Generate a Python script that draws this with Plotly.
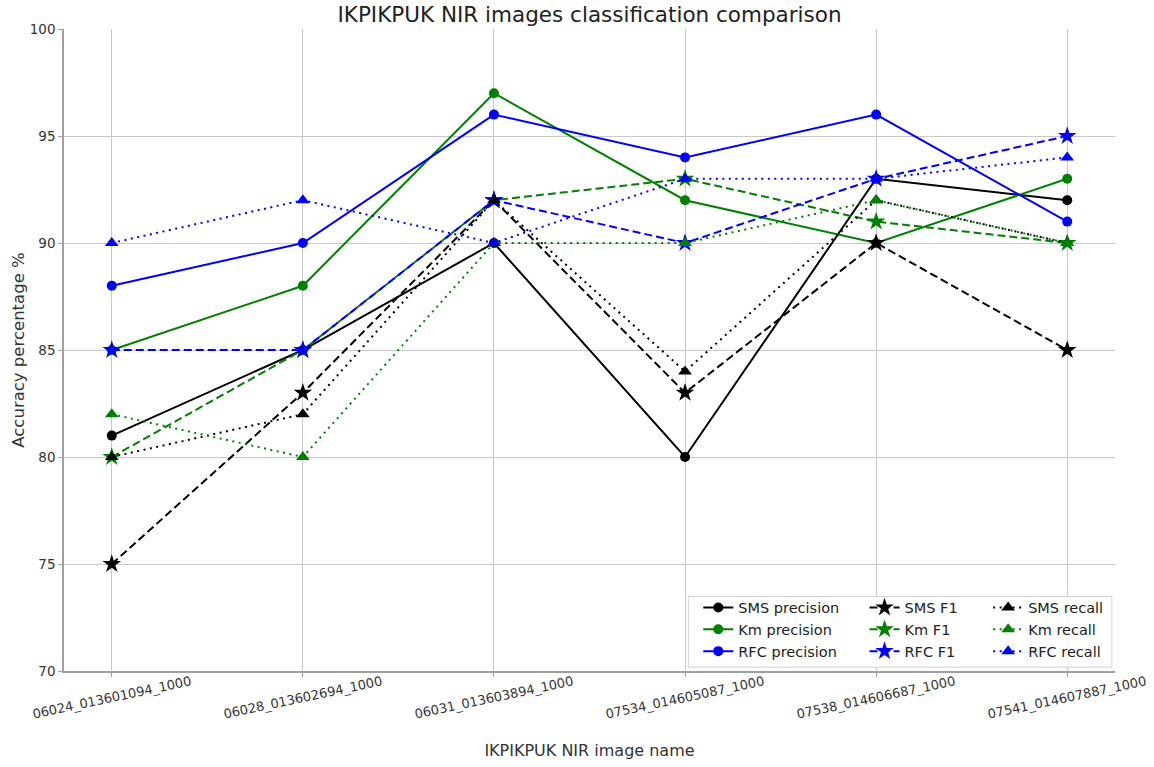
import plotly.graph_objects as go

# Image names along the x axis
categories = [
    "06024_013601094_1000",
    "06028_013602694_1000",
    "06031_013603894_1000",
    "07534_014605087_1000",
    "07538_014606687_1000",
    "07541_014607887_1000",
]

# Accuracy percentages per classifier and metric
sms_precision = [81, 85, 90, 80, 93, 92]
km_precision = [85, 88, 97, 92, 90, 93]
rfc_precision = [88, 90, 96, 94, 96, 91]

sms_f1 = [75, 83, 92, 83, 90, 85]
km_f1 = [80, 85, 92, 93, 91, 90]
rfc_f1 = [85, 85, 92, 90, 93, 95]

sms_recall = [80, 82, 92, 84, 92, 90]
km_recall = [82, 80, 90, 90, 92, 90]
rfc_recall = [90, 92, 90, 93, 93, 94]

y_ticks = [70, 75, 80, 85, 90, 95, 100]

FONT = "DejaVu Sans"
BLACK, GREEN, BLUE = "#000000", "#008000", "#0000ff"
DASH = "8px,4px"
DOT = "2px,4.5px"
TEXT = "#333333"

series = [
    ("SMS precision", sms_precision, BLACK, "solid", "circle", 10, "legend"),
    ("Km precision", km_precision, GREEN, "solid", "circle", 10, "legend"),
    ("RFC precision", rfc_precision, BLUE, "solid", "circle", 10, "legend"),
    ("SMS F1", sms_f1, BLACK, DASH, "star", 14, "legend2"),
    ("Km F1", km_f1, GREEN, DASH, "star", 14, "legend2"),
    ("RFC F1", rfc_f1, BLUE, DASH, "star", 14, "legend2"),
    ("SMS recall", sms_recall, BLACK, DOT, "triangle-up", 12, "legend3"),
    ("Km recall", km_recall, GREEN, DOT, "triangle-up", 12, "legend3"),
    ("RFC recall", rfc_recall, BLUE, DOT, "triangle-up", 12, "legend3"),
]

xs = list(range(len(categories)))

fig = go.Figure()
for name, vals, color, dash, symbol, size, leg in series:
    fig.add_trace(go.Scatter(
        x=xs,
        y=vals,
        name=name,
        mode="lines+markers",
        line=dict(color=color, width=2, dash=dash),
        marker=dict(color=color, symbol=symbol, size=size, line=dict(width=0)),
        legend=leg,
    ))

# Rotated category labels, centred under each tick
for i, label in enumerate(categories):
    fig.add_annotation(
        x=i, y=0, xref="x", yref="paper",
        text=label, showarrow=False,
        textangle=-12,
        xanchor="center", yanchor="top",
        yshift=0,
        font=dict(family=FONT, size=13, color=TEXT),
    )

legend_common = dict(
    bgcolor="rgba(0,0,0,0)",
    borderwidth=0,
    font=dict(family=FONT, size=14.5, color="#222222"),
    xanchor="left",
    yanchor="top",
    orientation="v",
    tracegroupgap=0,
)

grid_color = "#c8c8c8"
axis_color = "#a0a0a0"

fig.update_layout(
    width=1154,
    height=767,
    margin=dict(l=64, r=39, t=29, b=96),
    paper_bgcolor="white",
    plot_bgcolor="white",
    font=dict(family=FONT, color=TEXT),
    title=dict(
        text="IKPIKPUK NIR images classification comparison",
        xref="paper", x=0.5, xanchor="center",
        yref="container", y=0.981, yanchor="middle",
        font=dict(family=FONT, size=21.5, color="#222222"),
    ),
    xaxis=dict(
        tickvals=xs,
        showticklabels=False,
        range=[-0.25, 5.25],
        automargin=False,
        showgrid=True, gridcolor=grid_color, gridwidth=1.3,
        showline=True, linecolor=axis_color, linewidth=1.5,
        ticks="outside", ticklen=4, tickcolor=axis_color,
        zeroline=False,
        title=dict(text="IKPIKPUK NIR image name",
                   font=dict(family=FONT, size=16, color=TEXT), standoff=69),
    ),
    yaxis=dict(
        range=[70, 100],
        tickvals=y_ticks,
        automargin=False,
        tickfont=dict(family=FONT, size=13.5, color=TEXT),
        showgrid=True, gridcolor=grid_color, gridwidth=1.3,
        showline=True, linecolor=axis_color, linewidth=1.5,
        ticks="outside", ticklen=4, tickcolor=axis_color,
        zeroline=False,
        title=dict(text="Accuracy percentage %",
                   font=dict(family=FONT, size=16.5, color=TEXT), standoff=1),
    ),
    legend=dict(x=0.6035, y=0.1238, **legend_common),
    legend2=dict(x=0.7617, y=0.1238, **legend_common),
    legend3=dict(x=0.8793, y=0.1238, **legend_common),
    shapes=[dict(
        type="rect", xref="paper", yref="paper",
        x0=0.594, x1=0.997, y0=0.006, y1=0.116,
        fillcolor="rgba(255,255,255,0.85)",
        line=dict(color="#d0d0d0", width=1),
        layer="above",
    )],
)

fig.write_html("out.html")
